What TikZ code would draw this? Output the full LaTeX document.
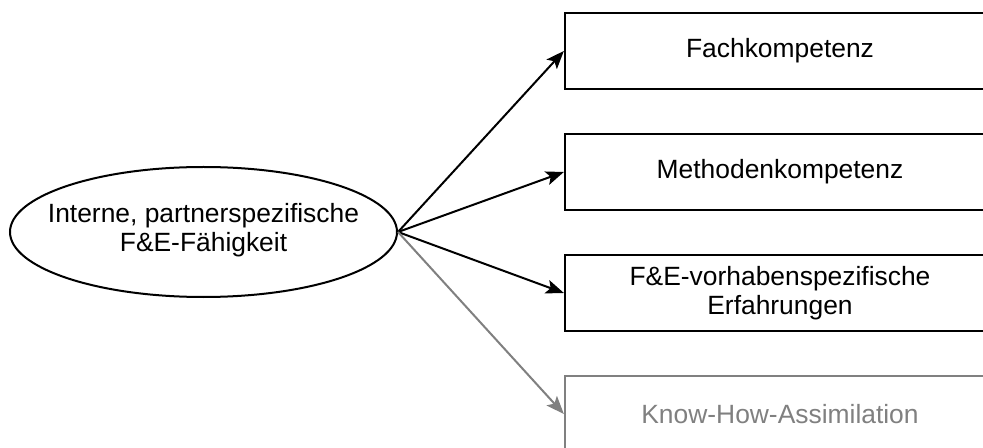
\documentclass[tikz,border=0pt]{standalone}
\usepackage{fontspec}
\setmainfont{Liberation Sans}
\usetikzlibrary{arrows.meta,shapes.geometric}
\definecolor{fadegray}{RGB}{128,128,128}
\tikzset{
  x=0.5pt, y=-0.5pt,
  lbl/.style={font=\fontsize{13.2pt}{14.8pt}\selectfont, align=center, text=black},
  source/.style={ellipse, draw=black, line width=1pt, inner sep=0pt,
                 minimum width=193.5pt, minimum height=65pt},
  item/.style={lbl, rectangle, draw=black, line width=1.15pt, inner sep=0pt,
               minimum width=215pt, minimum height=38pt},
  faded/.style={draw=fadegray, text=fadegray},
  link/.style={line width=1pt, -{Stealth[length=9pt, width=7pt, inset=2pt]}},
}
\begin{document}
\begin{tikzpicture}
  \useasboundingbox (0,0) rectangle (983,448);
  \clip (0,0) rectangle (983,448);
  \fill[white] (0,0) rectangle (983,448);

  % central capability: the outline is sized by its minimum dimensions,
  % the two-line caption sits on its centre
  \node[source, label={[lbl, yshift=1pt]center:Interne, partnerspezifische\\F\&E-Fähigkeit}]
    (cap) at (203.5,232) {};

  % dimensions
  \node[item] (fach) at (780,51)  {Fachkompetenz};
  \node[item] (meth) at (780,172) {Methodenkompetenz};
  \node[item] (erf)  at (780,293) {F\&E-vorhabenspezifische\\Erfahrungen};
  \node[item, faded] (know) at (780,414) {Know-How-Assimilation};

  % connectors
  \draw[link] (cap.east) -- (fach.west);
  \draw[link] (cap.east) -- (meth.west);
  \draw[link] (cap.east) -- (erf.west);
  \draw[link, draw=fadegray, fill=fadegray] (cap.east) -- (know.west);
\end{tikzpicture}
\end{document}
